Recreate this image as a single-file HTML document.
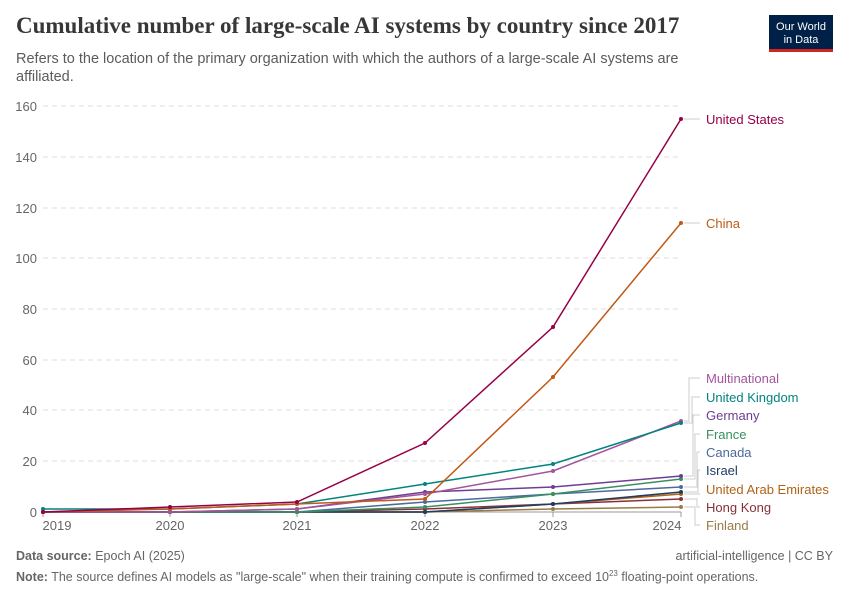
<!DOCTYPE html>
<html><head><meta charset="utf-8"><style>
body{margin:0;background:#fff;font-family:"Liberation Sans",sans-serif;}
</style></head><body>
<svg width="850" height="600" xmlns="http://www.w3.org/2000/svg" font-family="Liberation Sans, sans-serif">
<defs>
<marker id="m1" markerWidth="6" markerHeight="6" refX="3" refY="3" markerUnits="userSpaceOnUse"><circle cx="3" cy="3" r="2" fill="#9a7b47"/></marker>
<marker id="m2" markerWidth="6" markerHeight="6" refX="3" refY="3" markerUnits="userSpaceOnUse"><circle cx="3" cy="3" r="2" fill="#883039"/></marker>
<marker id="m3" markerWidth="6" markerHeight="6" refX="3" refY="3" markerUnits="userSpaceOnUse"><circle cx="3" cy="3" r="2" fill="#b16214"/></marker>
<marker id="m4" markerWidth="6" markerHeight="6" refX="3" refY="3" markerUnits="userSpaceOnUse"><circle cx="3" cy="3" r="2" fill="#1d3d63"/></marker>
<marker id="m5" markerWidth="6" markerHeight="6" refX="3" refY="3" markerUnits="userSpaceOnUse"><circle cx="3" cy="3" r="2" fill="#4c6a9c"/></marker>
<marker id="m6" markerWidth="6" markerHeight="6" refX="3" refY="3" markerUnits="userSpaceOnUse"><circle cx="3" cy="3" r="2" fill="#3a8e61"/></marker>
<marker id="m7" markerWidth="6" markerHeight="6" refX="3" refY="3" markerUnits="userSpaceOnUse"><circle cx="3" cy="3" r="2" fill="#6d3e91"/></marker>
<marker id="m8" markerWidth="6" markerHeight="6" refX="3" refY="3" markerUnits="userSpaceOnUse"><circle cx="3" cy="3" r="2" fill="#a2559c"/></marker>
<marker id="m9" markerWidth="6" markerHeight="6" refX="3" refY="3" markerUnits="userSpaceOnUse"><circle cx="3" cy="3" r="2" fill="#00847e"/></marker>
<marker id="m10" markerWidth="6" markerHeight="6" refX="3" refY="3" markerUnits="userSpaceOnUse"><circle cx="3" cy="3" r="2" fill="#c05917"/></marker>
<marker id="m11" markerWidth="6" markerHeight="6" refX="3" refY="3" markerUnits="userSpaceOnUse"><circle cx="3" cy="3" r="2" fill="#970046"/></marker>
</defs>
<text x="16" y="33" font-family="Liberation Serif, serif" font-size="23" font-weight="bold" fill="#373737">Cumulative number of large-scale AI systems by country since 2017</text>
<text x="16" y="63" font-size="14.5" fill="#5b5b5b">Refers to the location of the primary organization with which the authors of a large-scale AI systems are</text>
<text x="16" y="81" font-size="14.5" fill="#5b5b5b">affiliated.</text>
<rect x="769" y="15" width="64" height="36" fill="#002147"/>
<rect x="769" y="49" width="64" height="3" fill="#ce261e"/>
<text x="801" y="30" font-size="11" fill="#fff" text-anchor="middle">Our World</text>
<text x="801" y="43" font-size="11" fill="#fff" text-anchor="middle">in Data</text>
<g stroke="#ddd" stroke-dasharray="5,4">
<line x1="43" x2="681" y1="106" y2="106"/><line x1="43" x2="681" y1="157" y2="157"/><line x1="43" x2="681" y1="208" y2="208"/><line x1="43" x2="681" y1="258" y2="258"/><line x1="43" x2="681" y1="309" y2="309"/><line x1="43" x2="681" y1="360" y2="360"/><line x1="43" x2="681" y1="410" y2="410"/><line x1="43" x2="681" y1="461" y2="461"/>
</g>
<line x1="43" x2="681" y1="512" y2="512" stroke="#999"/>
<g stroke="#999"><line x1="43" x2="43" y1="512" y2="517"/><line x1="170" x2="170" y1="512" y2="517"/><line x1="297" x2="297" y1="512" y2="517"/><line x1="425" x2="425" y1="512" y2="517"/><line x1="553" x2="553" y1="512" y2="517"/><line x1="681" x2="681" y1="512" y2="517"/></g>
<g font-size="13" fill="#666" text-anchor="end">
<text x="37" y="111">160</text><text x="37" y="162">140</text><text x="37" y="213">120</text><text x="37" y="263">100</text><text x="37" y="314">80</text><text x="37" y="365">60</text><text x="37" y="415">40</text><text x="37" y="466">20</text><text x="37" y="517">0</text>
</g>
<g font-size="13" fill="#666" text-anchor="middle">
<text x="57" y="530">2019</text><text x="170" y="530">2020</text><text x="297" y="530">2021</text><text x="425" y="530">2022</text><text x="553" y="530">2023</text><text x="667" y="530">2024</text>
</g>
<g fill="none" stroke-width="1.5">
<polyline marker-start="url(#m1)" marker-mid="url(#m1)" marker-end="url(#m1)" stroke="#9a7b47" points="43,512 170,512 297,512 425,512 553,509 681,507"/>
<polyline marker-start="url(#m2)" marker-mid="url(#m2)" marker-end="url(#m2)" stroke="#883039" points="43,512 170,512 297,512 425,509 553,504 681,499"/>
<polyline marker-start="url(#m3)" marker-mid="url(#m3)" marker-end="url(#m3)" stroke="#b16214" points="43,512 170,512 297,512 425,512 553,504 681,494"/>
<polyline marker-start="url(#m4)" marker-mid="url(#m4)" marker-end="url(#m4)" stroke="#1d3d63" points="43,512 170,512 297,512 425,512 553,504 681,492"/>
<polyline marker-start="url(#m5)" marker-mid="url(#m5)" marker-end="url(#m5)" stroke="#4c6a9c" points="43,512 170,512 297,512 425,502 553,494 681,487"/>
<polyline marker-start="url(#m6)" marker-mid="url(#m6)" marker-end="url(#m6)" stroke="#3a8e61" points="43,512 170,512 297,512 425,507 553,494 681,479"/>
<polyline marker-start="url(#m7)" marker-mid="url(#m7)" marker-end="url(#m7)" stroke="#6d3e91" points="43,512 170,512 297,509 425,492 553,487 681,476"/>
<polyline marker-start="url(#m8)" marker-mid="url(#m8)" marker-end="url(#m8)" stroke="#a2559c" points="43,512 170,512 297,509 425,494 553,471 681,421"/>
<polyline marker-start="url(#m9)" marker-mid="url(#m9)" marker-end="url(#m9)" stroke="#00847e" points="43,509 170,509 297,504 425,484 553,464 681,423"/>
<polyline marker-start="url(#m10)" marker-mid="url(#m10)" marker-end="url(#m10)" stroke="#c05917" points="43,512 170,509 297,504 425,499 553,377 681,223"/>
<polyline marker-start="url(#m11)" marker-mid="url(#m11)" marker-end="url(#m11)" stroke="#970046" points="43,512 170,507 297,502 425,443 553,327 681,119"/>
</g>
<g stroke="#ccc" fill="none">
<path d="M684,421 H689 V378 H700"/><path d="M684,423 H692 V397 H700"/><path d="M684,476 H693 V415 H700"/><path d="M684,479 H695 V434 H700"/><path d="M684,487 H697 V452 H700"/><path d="M684,492 H698 V470 H700"/><path d="M684,494 H700"/><path d="M684,499 H697 V507 H700"/><path d="M684,507 H695 V525 H700"/>
<path d="M684,119 H700"/><path d="M684,223 H700"/>
</g>
<g font-size="13">
<text x="706" y="124" fill="#970046">United States</text>
<text x="706" y="228" fill="#c05917">China</text>
<text x="706" y="383" fill="#a2559c">Multinational</text>
<text x="706" y="402" fill="#00847e">United Kingdom</text>
<text x="706" y="420" fill="#6d3e91">Germany</text>
<text x="706" y="439" fill="#3a8e61">France</text>
<text x="706" y="457" fill="#4c6a9c">Canada</text>
<text x="706" y="475" fill="#1d3d63">Israel</text>
<text x="706" y="494" fill="#b16214">United Arab Emirates</text>
<text x="706" y="512" fill="#883039">Hong Kong</text>
<text x="706" y="530" fill="#9a7b47">Finland</text>
</g>
<text x="16" y="560" font-size="12.5" fill="#666"><tspan font-weight="bold">Data source:</tspan> Epoch AI (2025)</text>
<text x="833" y="560" font-size="12.5" fill="#666" text-anchor="end">artificial-intelligence | CC BY</text>
<text x="16" y="581" font-size="12.5" fill="#666"><tspan font-weight="bold">Note:</tspan> The source defines AI models as "large-scale" when their training compute is confirmed to exceed 10<tspan font-size="8" dy="-5">23</tspan><tspan dy="5"> floating-point operations.</tspan></text>
</svg>
</body></html>
